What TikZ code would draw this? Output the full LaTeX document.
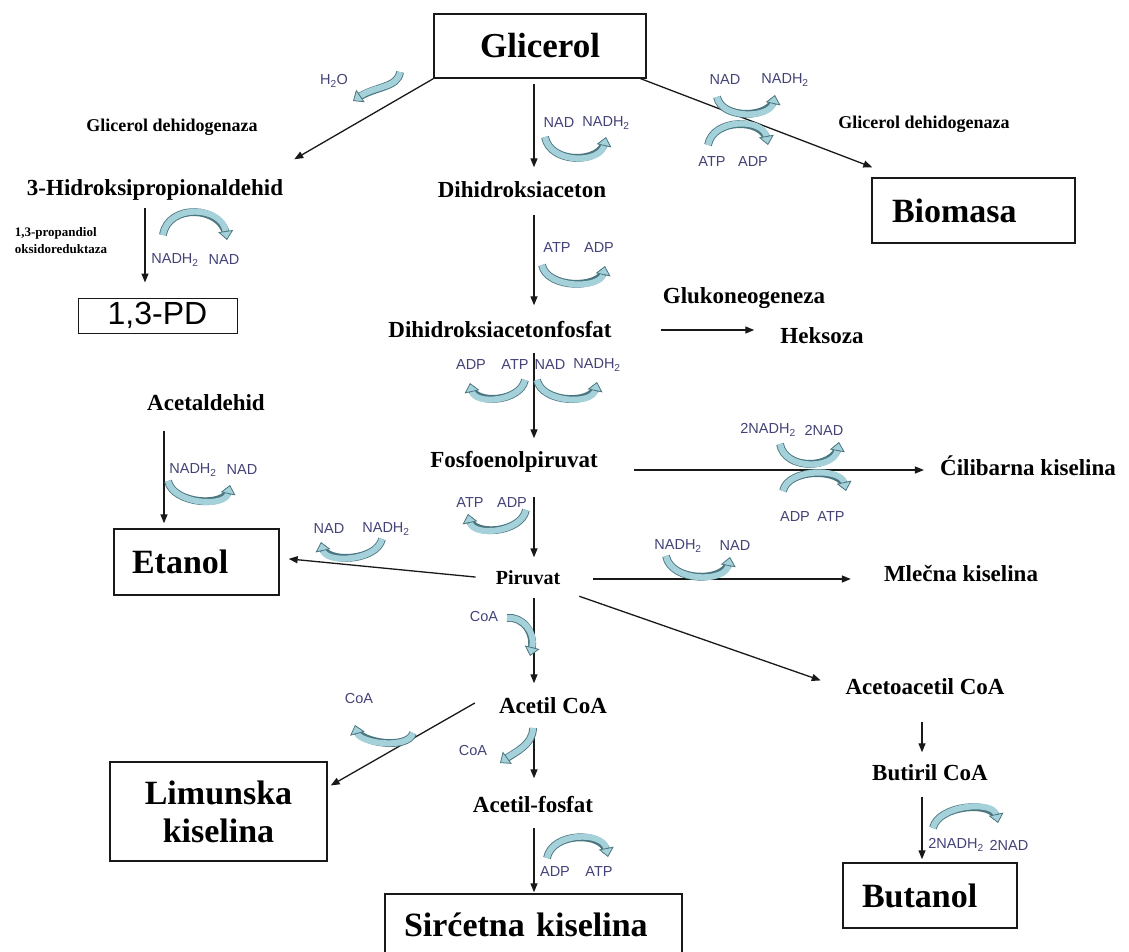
\documentclass[tikz,border=0pt]{standalone}
\usepackage{fontspec}
\setmainfont{Liberation Serif}
\newfontfamily\cofam{Liberation Sans}
\usepackage{tikz}
\usetikzlibrary{arrows.meta}
\definecolor{coffill}{RGB}{165,210,218}
\definecolor{cofedge}{RGB}{75,118,128}
\definecolor{cofblue}{RGB}{66,66,118}
\definecolor{ink}{RGB}{25,25,25}

\tikzset{
  box/.style={draw=ink,line width=1.4pt,inner sep=0pt,font=\fontsize{34}{38}\selectfont\bfseries},
  lab/.style={inner sep=0pt,text height=16pt,text depth=5pt,font=\fontsize{23}{26}\selectfont\bfseries},
  small/.style={inner sep=0pt,font=\fontsize{18}{20}\selectfont\bfseries},
  cof/.style={inner sep=0pt,text=cofblue,font=\cofam\fontsize{14.5}{16}\selectfont},
  flow/.style={draw=ink,line width=1.3pt,-{Triangle[length=9pt,width=7pt]}},
  fat/.style={draw=coffill,line width=6pt,-{Triangle[length=9pt,width=15pt,color=cofedge,fill=coffill,line width=0.8pt]},
    preaction={draw=cofedge,line width=7.8pt,-,shorten >=5pt}}
}

\begin{document}
\begin{tikzpicture}[x=1pt,y=-1pt]
\useasboundingbox (0,0) rectangle (1129,952);

\node (glic) at (540,46)[box,minimum width=212pt,minimum height=64pt,font=\fontsize{35}{38}\selectfont\bfseries] {Glicerol};
\node (bio) at (973.5,210.5)[box,minimum width=203pt,minimum height=65pt,text width=163pt,inner xsep=20pt,align=left] {Biomasa};
\node (pd) at (157.5,315.5)[box,line width=1pt,minimum width=159pt,minimum height=35pt,font=\cofam\fontsize{32}{35}\selectfont] {1,3-PD};
\node (eta) at (196.5,562)[box,minimum width=165pt,minimum height=66pt,text width=129pt,inner xsep=18pt,align=left] {Etanol};
\node (lim) at (218.5,811.5)[box,minimum width=217pt,minimum height=99pt,align=center] {Limunska\\kiselina};
\node (sir) at (533.5,925)[box,minimum width=297pt,minimum height=62pt,text width=259pt,inner xsep=19pt,align=left] {Sirćetna kiselina};
\node (but) at (930,895.5)[box,minimum width=174pt,minimum height=65pt,text width=136pt,inner xsep=19pt,align=left] {Butanol};

\node (hpa) at (155,190)[lab] {3-Hidroksipropionaldehid};
\node (dha) at (522,192)[lab] {Dihidroksiaceton};
\node (dhap) at (500,332)[lab] {Dihidroksiacetonfosfat};
\node (pep) at (514,462)[lab] {Fosfoenolpiruvat};
\node (piru) at (528,579)[lab,font=\fontsize{20}{22}\selectfont\bfseries] {Piruvat};
\node (acoa) at (553,708)[lab] {Acetil CoA};
\node (afos) at (533,807)[lab] {Acetil-fosfat};
\node (acald) at (206,405)[lab] {Acetaldehid};
\node (gluk) at (744,298)[lab] {Glukoneogeneza};
\node (heks) at (822,338)[lab] {Heksoza};
\node (cili) at (1028,470)[lab] {Ćilibarna kiselina};
\node (mlec) at (961,576)[lab] {Mlečna kiselina};
\node (aacoa) at (925,689)[lab] {Acetoacetil CoA};
\node (bcoa) at (930,775)[lab] {Butiril CoA};
\node (gd1) at (172,127)[small] {Glicerol dehidogenaza};
\node (gd2) at (924,124)[small] {Glicerol dehidogenaza};
\node (pdo) at (61,241)[small,font=\fontsize{13}{17}\selectfont\bfseries,align=left] {1,3-propandiol\\oksidoreduktaza};

\node (h2o) at (334,81)[cof] {H\textsubscript{2}O};
\node (c1) at (559,123)[cof] {NAD};
\node (c2) at (606,123)[cof] {NADH\textsubscript{2}};
\node (c3) at (725,80)[cof] {NAD};
\node (c4) at (785,80)[cof] {NADH\textsubscript{2}};
\node (c5) at (712,162)[cof] {ATP};
\node (c6) at (753,162)[cof] {ADP};
\node (c7) at (175,260)[cof] {NADH\textsubscript{2}};
\node (c8) at (224,260)[cof] {NAD};
\node (c9) at (557,248)[cof] {ATP};
\node (c10) at (599,248)[cof] {ADP};
\node (c11) at (471,365)[cof] {ADP};
\node (c12) at (515,365)[cof] {ATP};
\node (c13) at (550,365)[cof] {NAD};
\node (c14) at (597,365)[cof] {NADH\textsubscript{2}};
\node (c15) at (193,470)[cof] {NADH\textsubscript{2}};
\node (c16) at (242,470)[cof] {NAD};
\node (c17) at (470,503)[cof] {ATP};
\node (c18) at (512,503)[cof] {ADP};
\node (c19) at (329,529)[cof] {NAD};
\node (c20) at (386,529)[cof] {NADH\textsubscript{2}};
\node (c21) at (768,430)[cof] {2NADH\textsubscript{2}};
\node (c22) at (824,430)[cof] {2NAD};
\node (c23) at (795,517)[cof] {ADP};
\node (c24) at (831,517)[cof] {ATP};
\node (c25) at (678,546)[cof] {NADH\textsubscript{2}};
\node (c26) at (735,546)[cof] {NAD};
\node (c27) at (484,617)[cof] {CoA};
\node (c28) at (359,699)[cof] {CoA};
\node (c29) at (473,750)[cof] {CoA};
\node (c30) at (555,872)[cof] {ADP};
\node (c31) at (599,872)[cof] {ATP};
\node (c32) at (956,845)[cof] {2NADH\textsubscript{2}};
\node (c33) at (1009,845)[cof] {2NAD};

\coordinate (trunk) at (534,0);
\coordinate (ax) at (164,0);
\coordinate (bx) at (922,0);

\draw[flow,shorten <=5pt,shorten >=14pt] (glic.south -| trunk) -- (dha.north -| trunk);
\draw[flow,shorten <=12pt,shorten >=16pt] (dha.south -| trunk) -- (dhap.north -| trunk);
\draw[flow,shorten <=10pt,shorten >=13pt] (dhap.south -| trunk) -- (pep.north -| trunk);
\draw[flow,shorten <=24pt,shorten >=11pt] (pep.south -| trunk) -- (piru.north -| trunk);
\draw[flow,shorten <=8pt,shorten >=14pt] (piru.south -| trunk) -- (acoa.north -| trunk);
\draw[flow,shorten <=9pt,shorten >=18pt] (acoa.south -| trunk) -- (afos.north -| trunk);
\draw[flow,shorten <=10pt,shorten >=1pt] (afos.south -| trunk) -- (sir.north -| trunk);
\draw[flow,shorten <=22pt,shorten >=12pt] (aacoa.south -| bx) -- (bcoa.north -| bx);
\draw[flow,shorten <=11pt,shorten >=3pt] (bcoa.south -| bx) -- (but.north -| bx);
\draw[flow,shorten <=15pt,shorten >=5pt] (acald.south -| ax) -- (eta.north -| ax);
\draw[flow,shorten <=7pt,shorten >=15pt] ([xshift=-10pt]hpa.south) -- ([xshift=-12.5pt]pd.north);
\draw[flow] (glic.south west) -- ([shift={(11,-20)}]hpa.north east);
\draw[flow] ([xshift=-6pt]glic.south east) -- ([shift={(1,-10)}]bio.north west);
\draw[flow,shorten <=49pt,shorten >=26pt] ([yshift=2pt]dhap.east) -- ([yshift=8pt]heks.west);
\draw[flow,shorten <=36pt,shorten >=16pt] (pep.east |- cili.west) -- (cili.west);
\draw[flow,shorten <=33pt,shorten >=33pt] (piru.east) -- (piru.east -| mlec.west);
\draw[flow,shorten <=20pt,shorten >=9pt] (piru.west) -- ([yshift=4pt]eta.east);
\draw[flow,shorten <=20pt,shorten >=26pt] (piru.south east) -- (aacoa.west);
\draw[flow] ([shift={(-24,-5)}]acoa.west) -- ([shift={(3,-26)}]lim.east);

\draw[fat] (400,72) .. controls (398,88) and (375,86) .. (353,101);
\draw[fat] (545,137) .. controls (550,164) and (600,164) .. (606,137);
\draw[fat] (717,97) .. controls (722,120) and (770,118) .. (775,95);
\draw[fat] (708,145) .. controls (713,118) and (763,118) .. (768,145);
\draw[fat] (163,235) .. controls (168,203) and (222,206) .. (227,240);
\draw[fat] (542,265) .. controls (547,289) and (600,289) .. (605,266);
\draw[fat] (525,380) .. controls (520,402) and (475,405) .. (470,383);
\draw[fat] (537,380) .. controls (542,403) and (592,405) .. (597,382);
\draw[fat] (168,481) .. controls (173,504) and (225,508) .. (230,485);
\draw[fat] (526,510) .. controls (521,533) and (473,537) .. (468,514);
\draw[fat] (382,539) .. controls (377,561) and (326,564) .. (321,542);
\draw[fat] (780,444) .. controls (785,471) and (834,469) .. (839,442);
\draw[fat] (783,491) .. controls (788,468) and (841,468) .. (846,491);
\draw[fat] (666,556) .. controls (671,582) and (725,583) .. (730,557);
\draw[fat] (507,618) .. controls (522,616) and (536,632) .. (530,656);
\draw[fat] (413,733) .. controls (408,750) and (360,743) .. (355,725);
\draw[fat] (533,728) .. controls (533,745) and (515,752) .. (500,763);
\draw[fat] (547,858) .. controls (552,832) and (603,831) .. (608,857);
\draw[fat] (933,828) .. controls (938,805) and (993,800) .. (998,823);
\end{tikzpicture}
\end{document}
